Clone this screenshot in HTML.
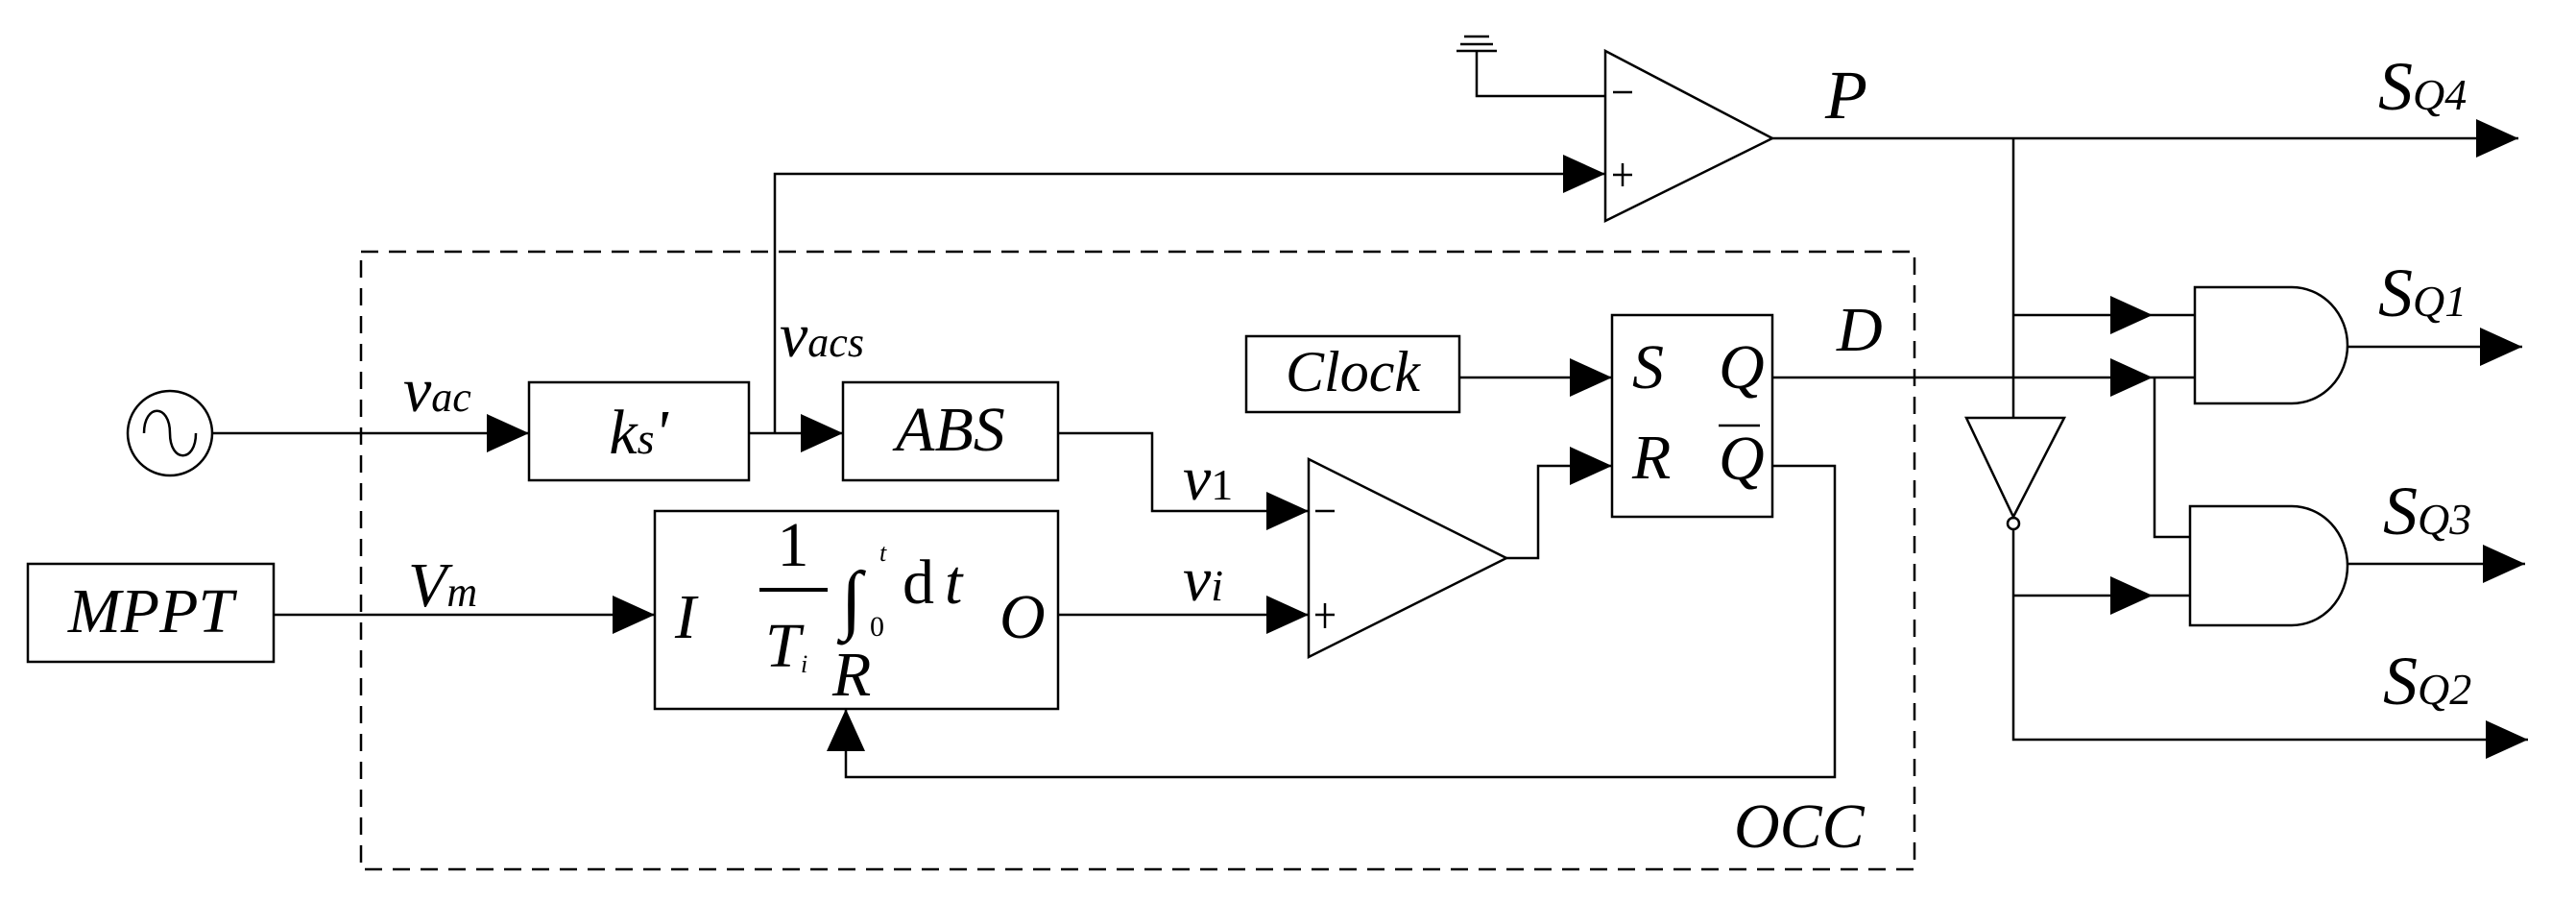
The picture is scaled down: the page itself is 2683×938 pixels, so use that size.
<!DOCTYPE html>
<html><head><meta charset="utf-8"><style>
html,body{margin:0;padding:0;background:#fff;}
svg{display:block;}
text{font-family:"Liberation Serif",serif;font-style:italic;fill:#000;}
.n{font-style:normal;}
</style></head><body>
<svg width="2683" height="938" viewBox="0 0 2683 938" xmlns="http://www.w3.org/2000/svg">
<defs>
<marker id="a" markerWidth="44" markerHeight="40" refX="44" refY="20" orient="auto" markerUnits="userSpaceOnUse">
<path d="M0,0 L44,20 L0,40 Z" fill="#000"/></marker>
</defs>
<g fill="none" stroke="#000" stroke-width="2.5">
<rect x="376" y="262" width="1618" height="643" stroke-dasharray="18,11"/>
<circle cx="177" cy="451" r="44"/>
<path d="M150,451 C150,420 177,420 177,451 C177,482 204,482 204,451"/>
<line x1="221" y1="451" x2="551" y2="451" marker-end="url(#a)"/>
<rect x="551" y="398" width="229" height="102"/>
<rect x="878" y="398" width="224" height="102"/>
<line x1="780" y1="451" x2="878" y2="451" marker-end="url(#a)"/>
<polyline points="807,451 807,181 1672,181" marker-end="url(#a)"/>
<rect x="29" y="587" width="256" height="102"/>
<line x1="285" y1="640" x2="682" y2="640" marker-end="url(#a)"/>
<rect x="682" y="532" width="420" height="206"/>
<line x1="791" y1="614" x2="862" y2="614" stroke-width="4"/>
<polyline points="1102,451 1200,451 1200,532 1363,532" marker-end="url(#a)"/>
<line x1="1102" y1="640" x2="1363" y2="640" marker-end="url(#a)"/>
<polygon points="1363,478 1569,581 1363,684"/>
<line x1="1370" y1="532" x2="1390" y2="532"/>
<line x1="1370" y1="640" x2="1390" y2="640"/><line x1="1380" y1="628" x2="1380" y2="654"/>
<polyline points="1569,581 1602,581 1602,485 1679,485" marker-end="url(#a)"/>
<rect x="1298" y="350" width="222" height="79"/>
<line x1="1520" y1="393" x2="1679" y2="393" marker-end="url(#a)"/>
<rect x="1679" y="328" width="167" height="210"/>
<line x1="1790" y1="443" x2="1833" y2="443"/>
<polyline points="1846,485 1911,485 1911,809 881,809 881,738" marker-end="url(#a)"/>
<line x1="1525" y1="38" x2="1551" y2="38"/><line x1="1521" y1="46" x2="1555" y2="46"/>
<line x1="1517" y1="53" x2="1559" y2="53"/>
<polyline points="1538,53 1538,100 1672,100"/>
<polygon points="1672,53 1846,144 1672,230"/>
<line x1="1680" y1="96" x2="1700" y2="96"/>
<line x1="1680" y1="182" x2="1700" y2="182"/><line x1="1690" y1="170" x2="1690" y2="194"/>
<line x1="1846" y1="144" x2="2623" y2="144" marker-end="url(#a)"/>
<line x1="2097" y1="144" x2="2097" y2="435"/>
<polygon points="2048,435 2150,435 2097,538"/>
<circle cx="2097" cy="545" r="6"/>
<polyline points="2097,551 2097,770 2633,770" marker-end="url(#a)"/>
<line x1="2097" y1="328" x2="2242" y2="328" marker-end="url(#a)"/>
<line x1="2242" y1="328" x2="2286" y2="328"/>
<line x1="1846" y1="393" x2="2242" y2="393" marker-end="url(#a)"/>
<line x1="2242" y1="393" x2="2286" y2="393"/>
<polyline points="2244,393 2244,559 2281,559"/>
<line x1="2097" y1="620" x2="2242" y2="620" marker-end="url(#a)"/>
<line x1="2242" y1="620" x2="2281" y2="620"/>
<path d="M2286,299 L2387,299 A58,60.5 0 0 1 2387,420 L2286,420 Z"/>
<line x1="2445" y1="361" x2="2627" y2="361" marker-end="url(#a)"/>
<path d="M2281,527 L2387,527 A58,62 0 0 1 2387,651 L2281,651 Z"/>
<line x1="2445" y1="587" x2="2630" y2="587" marker-end="url(#a)"/>
</g>
<g font-size="66">
<text x="157" y="658" text-anchor="middle">MPPT</text>
<text x="665" y="472" text-anchor="middle">k<tspan font-size="46">s</tspan>'</text>
<text x="990" y="469" text-anchor="middle">ABS</text>
<text x="1409" y="407" text-anchor="middle" font-size="60">Clock</text>
<text x="420" y="428">v<tspan font-size="44">ac</tspan></text>
<text x="812" y="371">v<tspan font-size="44">acs</tspan></text>
<text x="1232" y="520">v<tspan font-size="46" style="font-style:normal">1</tspan></text>
<text x="1232" y="625">v<tspan font-size="46">i</tspan></text>
<text x="425" y="631">V<tspan font-size="44">m</tspan></text>
<text x="703" y="664">I</text>
<text x="1041" y="664">O</text>
<text x="867" y="724">R</text>
<text x="826" y="589" style="font-style:normal" text-anchor="middle">1</text>
<text x="797" y="694">T</text>
<text x="834" y="700" font-size="26">i</text>
<text x="876" y="650" style="font-style:normal" font-size="80">∫</text>
<text x="916" y="584" font-size="26">t</text>
<text x="906" y="662" font-size="30" style="font-style:normal">0</text>
<text x="940" y="628" style="font-style:normal">d</text><text x="984" y="628">t</text>
<text x="1700" y="404">S</text>
<text x="1790" y="404">Q</text>
<text x="1700" y="498">R</text>
<text x="1790" y="499">Q</text>
<text x="1913" y="365">D</text>
<text x="1901" y="123" font-size="72">P</text>
<text x="1806" y="882">OCC</text>
<text x="2477" y="114" font-size="72">S<tspan font-size="46">Q4</tspan></text>
<text x="2477" y="329" font-size="72">S<tspan font-size="46">Q1</tspan></text>
<text x="2482" y="556" font-size="72">S<tspan font-size="46">Q3</tspan></text>
<text x="2482" y="733" font-size="72">S<tspan font-size="46">Q2</tspan></text>
</g>
</svg>
</body></html>
